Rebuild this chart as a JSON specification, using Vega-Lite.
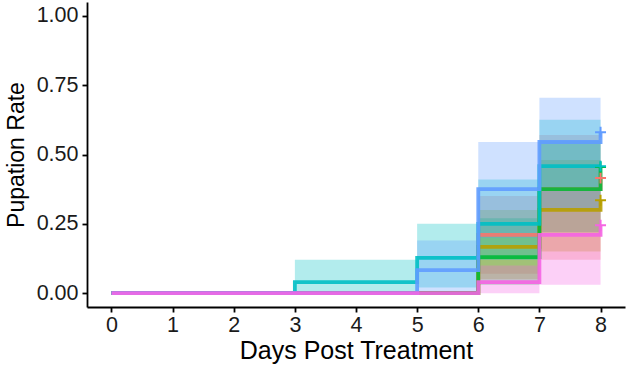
{
  "$schema": "https://vega.github.io/schema/vega-lite/v6.json",
  "width": 538,
  "height": 305,
  "autosize": {"type": "none"},
  "padding": {"left": 87, "top": 2, "right": 5, "bottom": 64},
  "background": "white",
  "config": {
    "view": {"stroke": null},
    "font": "Liberation Sans",
    "axis": {
      "grid": false,
      "domainColor": "black",
      "domainWidth": 1.8,
      "tickColor": "black",
      "tickWidth": 1.8,
      "tickSize": 5,
      "labelColor": "#1a1a1a",
      "labelFont": "Liberation Sans",
      "labelFontSize": 21.5,
      "titleFont": "Liberation Sans",
      "titleFontWeight": "normal",
      "titleColor": "black"
    }
  },
  "datasets": {
    "curves": [
      {"g": "A", "t": 0, "est": 0, "lo": 0, "hi": 0},
      {"g": "A", "t": 6, "est": 0.21, "lo": 0.07, "hi": 0.35},
      {"g": "A", "t": 7, "est": 0.375, "lo": 0.12, "hi": 0.57},
      {"g": "A", "t": 8, "est": 0.415, "lo": 0.12, "hi": 0.57},
      {"g": "B", "t": 0, "est": 0, "lo": 0, "hi": 0},
      {"g": "B", "t": 6, "est": 0.167, "lo": 0.05, "hi": 0.3},
      {"g": "B", "t": 7, "est": 0.3, "lo": 0.15, "hi": 0.48},
      {"g": "B", "t": 8, "est": 0.335, "lo": 0.15, "hi": 0.48},
      {"g": "C", "t": 0, "est": 0, "lo": 0, "hi": 0},
      {"g": "C", "t": 6, "est": 0.13, "lo": 0.03, "hi": 0.27},
      {"g": "C", "t": 7, "est": 0.375, "lo": 0.22, "hi": 0.55},
      {"g": "C", "t": 8, "est": 0.455, "lo": 0.22, "hi": 0.55},
      {"g": "D", "t": 0, "est": 0, "lo": 0, "hi": 0},
      {"g": "D", "t": 3, "est": 0.04, "lo": 0, "hi": 0.12},
      {"g": "D", "t": 5, "est": 0.127, "lo": 0.02, "hi": 0.25},
      {"g": "D", "t": 6, "est": 0.25, "lo": 0.12, "hi": 0.41},
      {"g": "D", "t": 7, "est": 0.458, "lo": 0.3, "hi": 0.625},
      {"g": "D", "t": 8, "est": 0.458, "lo": 0.3, "hi": 0.625},
      {"g": "E", "t": 0, "est": 0, "lo": 0, "hi": 0},
      {"g": "E", "t": 5, "est": 0.083, "lo": 0, "hi": 0.19},
      {"g": "E", "t": 6, "est": 0.375, "lo": 0.2, "hi": 0.545},
      {"g": "E", "t": 7, "est": 0.545, "lo": 0.37, "hi": 0.705},
      {"g": "E", "t": 8, "est": 0.58, "lo": 0.37, "hi": 0.705},
      {"g": "F", "t": 0, "est": 0, "lo": 0, "hi": 0},
      {"g": "F", "t": 6, "est": 0.04, "lo": 0, "hi": 0.1},
      {"g": "F", "t": 7, "est": 0.21, "lo": 0.03, "hi": 0.37},
      {"g": "F", "t": 8, "est": 0.245, "lo": 0.03, "hi": 0.37}
    ]
  },
  "data": {"name": "curves"},
  "encoding": {
    "x": {
      "field": "t",
      "type": "quantitative",
      "scale": {"domain": [-0.4, 8.4], "nice": false, "zero": false},
      "axis": {"values": [0, 1, 2, 3, 4, 5, 6, 7, 8], "title": "Days Post Treatment", "titleFontSize": 25, "labelPadding": 2, "titlePadding": 3}
    },
    "color": {
      "field": "g",
      "type": "nominal",
      "legend": null,
      "scale": {
        "domain": ["A", "B", "C", "D", "E", "F"],
        "range": ["#F8766D", "#B79F00", "#00BA38", "#00BFC4", "#619CFF", "#F564E3"]
      }
    }
  },
  "layer": [
    {
      "mark": {"type": "area", "interpolate": "step-after", "opacity": 0.3},
      "encoding": {
        "y": {
          "field": "lo",
          "type": "quantitative",
          "scale": {"domain": [-0.05, 1.05], "nice": false, "zero": false},
          "axis": {"values": [0, 0.25, 0.5, 0.75, 1], "format": ".2f", "title": "Pupation Rate", "titleFontSize": 23, "labelPadding": 4, "titlePadding": 8}
        },
        "y2": {"field": "hi"}
      }
    },
    {
      "mark": {"type": "line", "interpolate": "step-after", "strokeWidth": 3.8, "opacity": 0.9},
      "encoding": {"y": {"field": "est", "type": "quantitative"}}
    },
    {
      "transform": [{"filter": "datum.t == 8"}],
      "mark": {"type": "point", "shape": "M-1,0H1M0,-1V1", "filled": false, "strokeWidth": 2, "size": 120, "opacity": 1},
      "encoding": {"y": {"field": "est", "type": "quantitative"}}
    }
  ]
}
